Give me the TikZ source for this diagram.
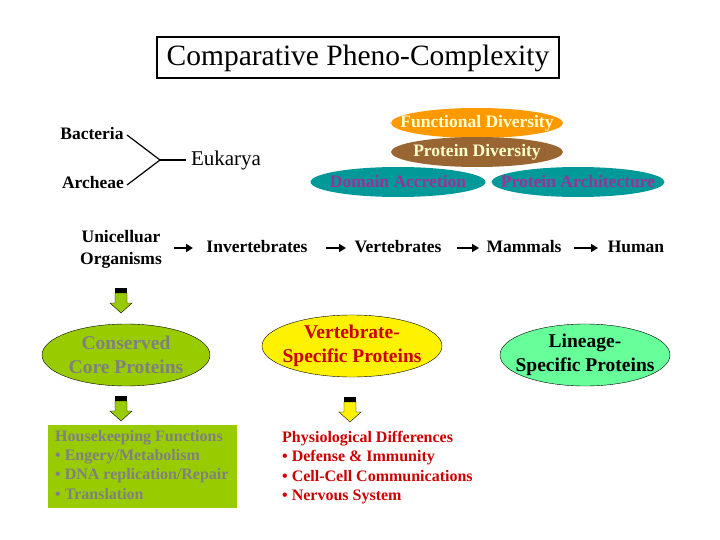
\documentclass[tikz,border=0pt]{standalone}
\usepackage{fontspec}
\setmainfont{Liberation Serif}
\usetikzlibrary{shapes.geometric,arrows.meta}
\definecolor{lgreen}{HTML}{99CC00}
\definecolor{tealc}{HTML}{009999}
\definecolor{purp}{HTML}{993399}
\definecolor{brownc}{HTML}{996633}
\definecolor{orangec}{HTML}{FF9900}
\definecolor{cream}{HTML}{FFFFCC}
\definecolor{grayt}{HTML}{808080}
\definecolor{redt}{HTML}{CC0000}
\definecolor{mint}{HTML}{66FF99}
\tikzset{
  x=1pt,y=-1pt,
  bt/.style={font=\fontsize{17.5}{22}\selectfont\bfseries,align=center,inner sep=0},
  pill/.style={ellipse,minimum height=30pt,inner xsep=-35pt,inner ysep=-5pt,font=\fontsize{17.5}{20}\selectfont\bfseries},
  big/.style={ellipse,draw=black,minimum width=168pt,minimum height=62pt,inner xsep=-25pt,inner ysep=-10pt,align=center,font=\fontsize{19.5}{24}\selectfont\bfseries},
  sarr/.style={-{Triangle[length=7pt,width=8pt]},line width=2.5pt},
}
\newcommand{\blockarrow}[3]{% x, ytop, fill
  \fill[black] (#1-6,#2) rectangle (#1+6,#2+5);
  \draw[fill=#3] (#1-6,#2+5) -- (#1+6,#2+5) -- (#1+6,#2+15) -- (#1+11,#2+15) -- (#1,#2+25) -- (#1-11,#2+15) -- (#1-6,#2+15) -- cycle;
}
\begin{document}
\begin{tikzpicture}
\useasboundingbox (0,0) rectangle (720,540);
\node[draw=black,line width=2pt,minimum width=402pt,minimum height=41pt,font=\fontsize{29.5}{32}\selectfont] (title) at (358,58) {Comparative Pheno-Complexity};
\node[bt] (bac) at (92,134) {Bacteria};
\node[bt] (arc) at (93,183) {Archeae};
\node[font=\fontsize{21}{24}\selectfont,inner sep=0] (euk) at (226,160) {Eukarya};
\coordinate (j) at (160,160);
\coordinate (je) at (186,160);
\draw[line width=1.2pt] (127,135) -- (j) -- (127,185);
\draw[line width=1.2pt] (j) -- (je);
\node[pill,fill=orangec,text=cream,minimum width=172pt] (fd) at (477,123) {Functional Diversity};
\node[pill,fill=brownc,text=cream,minimum width=172pt] (pd) at (477,152) {Protein Diversity};
\node[pill,fill=tealc,text=purp,minimum width=175pt] (da) at (398,182) {Domain Accretion};
\node[pill,fill=tealc,text=purp,minimum width=173pt] (pa) at (578,182) {Protein Architecture};
\node[bt] (uni) at (121,249) {Unicelluar\\Organisms};
\node[bt] (inv) at (257,247) {Invertebrates};
\node[bt] (ver) at (398,247) {Vertebrates};
\node[bt] (mam) at (524,247) {Mammals};
\node[bt] (hum) at (636,247) {Human};
\draw[sarr] (174,248) -- (193,248);
\draw[sarr] (326,248) -- (346,248);
\draw[sarr] (457,248) -- (479,248);
\draw[sarr] (574,248) -- (598,248);
\blockarrow{121}{288}{lgreen}
\node[big,fill=lgreen,text=grayt] (cons) at (126,355) {Conserved\\Core Proteins};
\node[big,fill=yellow,text=redt,minimum width=180pt] (vsp) at (352,346) {Vertebrate-\\Specific Proteins};
\node[big,fill=mint,text=black,minimum width=170pt] (lin) at (585,355) {Lineage-\\Specific Proteins};
\blockarrow{121}{396}{lgreen}
\blockarrow{350}{397}{yellow}
\fill[lgreen] (48,425) rectangle (237,508);
\node[anchor=north west,align=left,text=grayt,inner sep=0,font=\fontsize{16}{19.3}\selectfont\bfseries] (hk) at (55,430) {Housekeeping Functions\\• Engery/Metabolism\\• DNA replication/Repair\\• Translation};
\node[anchor=north west,align=left,text=redt,inner sep=0,font=\fontsize{16}{19.3}\selectfont\bfseries] (phy) at (282,431) {Physiological Differences\\• Defense \& Immunity\\• Cell-Cell Communications\\• Nervous System};
\end{tikzpicture}
\end{document}
